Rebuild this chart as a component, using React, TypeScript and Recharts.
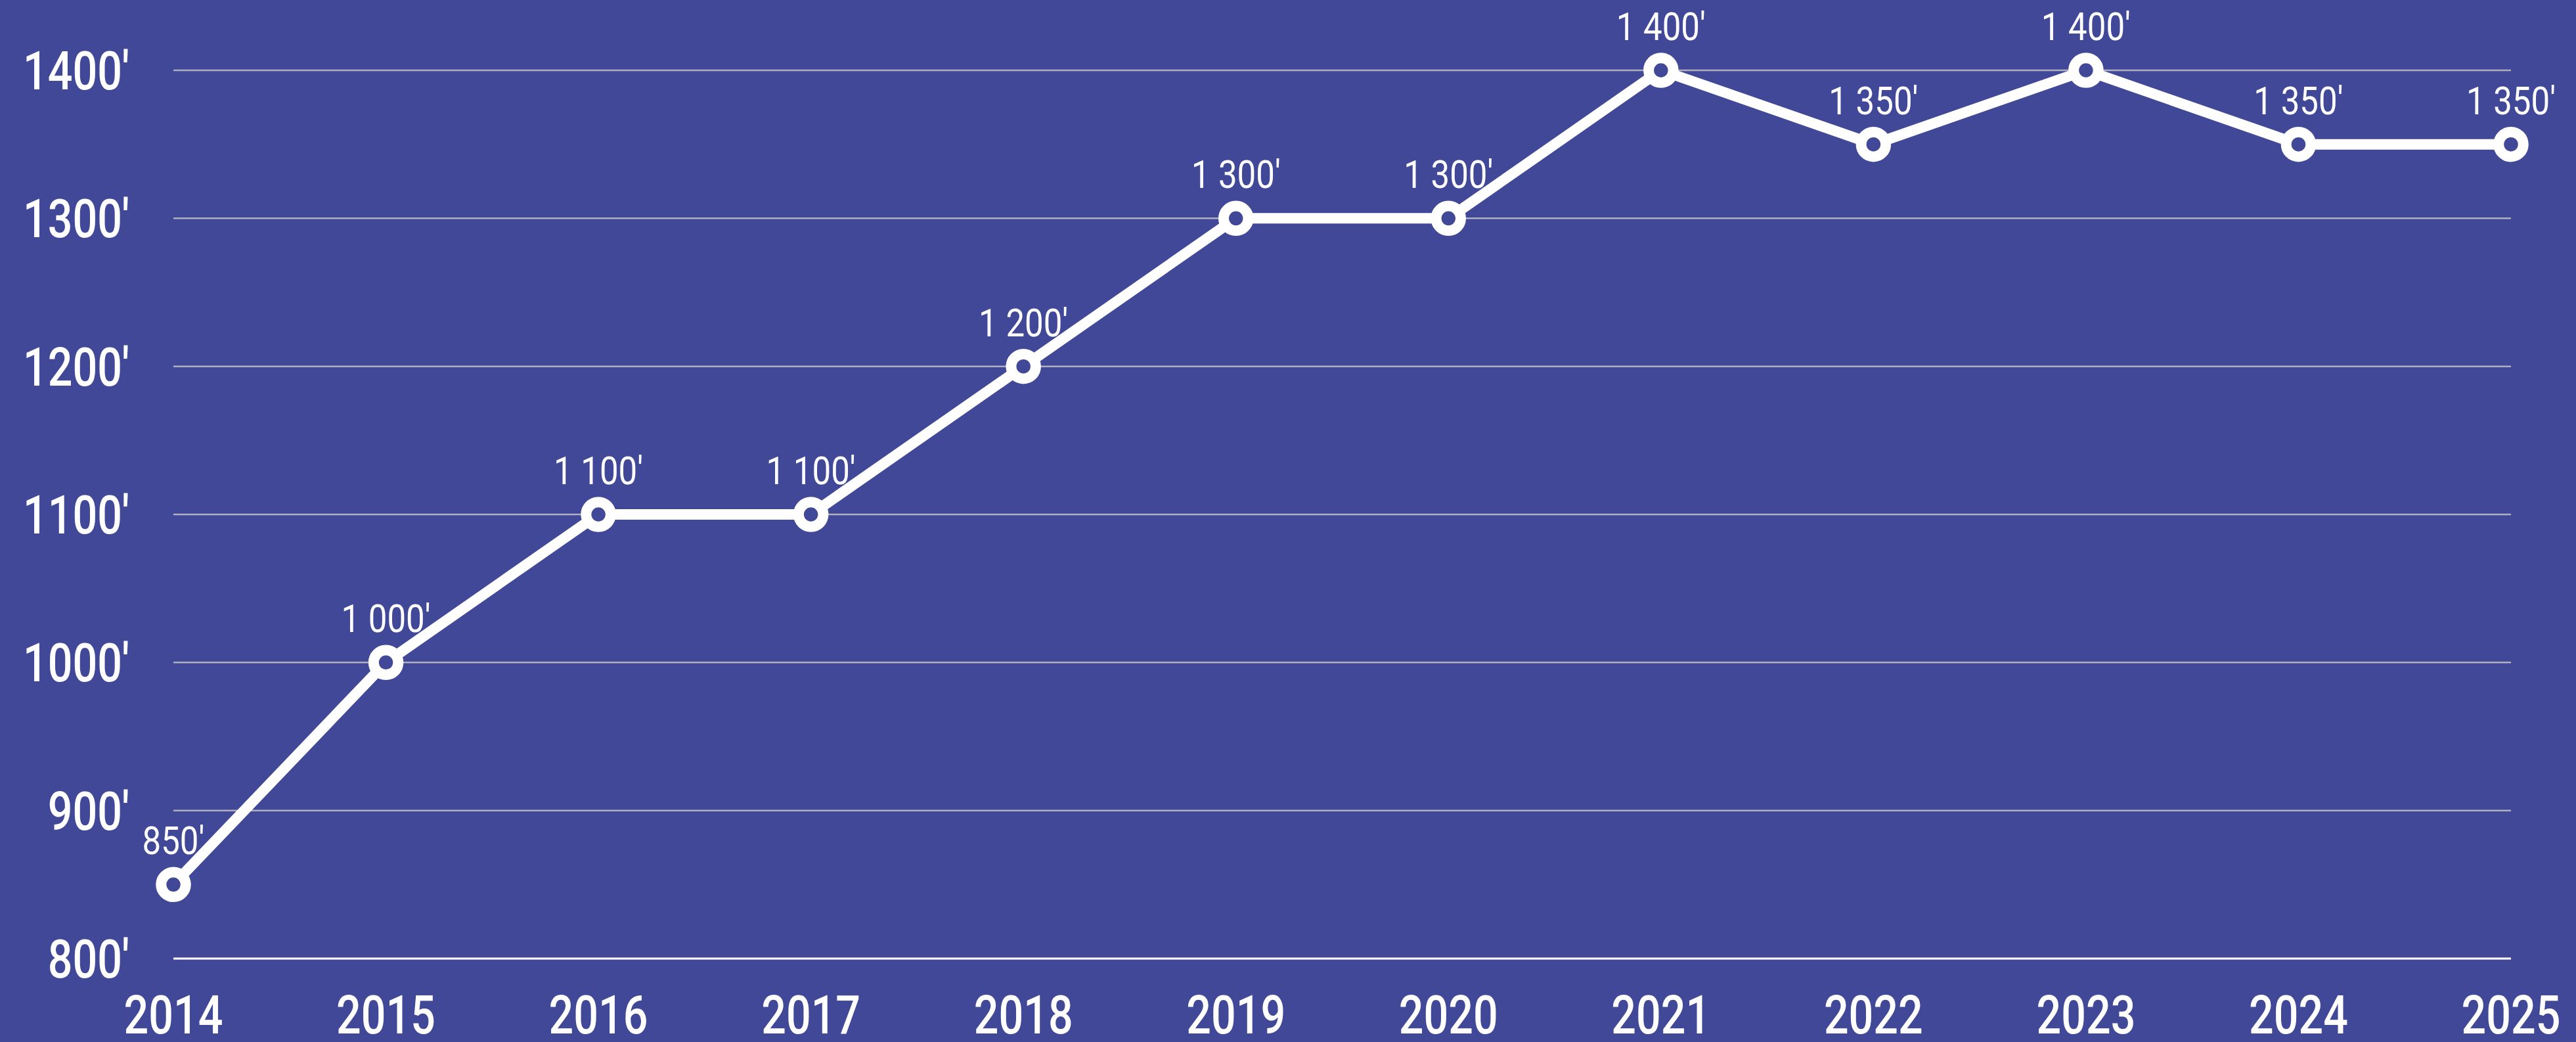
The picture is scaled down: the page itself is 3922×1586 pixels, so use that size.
import { LineChart, Line, XAxis, YAxis, CartesianGrid, LabelList } from "recharts"

const years = ["2014", "2015", "2016", "2017", "2018", "2019", "2020", "2021", "2022", "2023", "2024", "2025"]
const values = [850, 1000, 1100, 1100, 1200, 1300, 1300, 1400, 1350, 1400, 1350, 1350]
const yTicks = [800, 900, 1000, 1100, 1200, 1300, 1400]

const BG = "#404897"
const FONT = "Roboto, 'Noto Sans', sans-serif"

const data = years.map((year, i) => ({ year, value: values[i] }))

// "1 350'" style with a space as thousands separator
function formatValue(v: number) {
  if (v >= 1000) {
    const rest = String(v % 1000).padStart(3, "0")
    return `${Math.floor(v / 1000)} ${rest}'`
  }
  return `${v}'`
}

function XTick(props: any) {
  const { x, y, payload } = props
  return (
    <text
      transform={`translate(${x},${y + 106}) scale(0.82,1)`}
      textAnchor="middle"
      fill="#fff"
      fontSize={81}
      fontWeight={500}
      fontFamily={FONT}
    >
      {payload.value}
    </text>
  )
}

function YTick(props: any) {
  const { y, payload } = props
  return (
    <text
      transform={`translate(197,${y + 29}) scale(0.82,1)`}
      textAnchor="end"
      fill="#fff"
      fontSize={81}
      fontWeight={500}
      fontFamily={FONT}
    >
      {`${payload.value}'`}
    </text>
  )
}

function RingDot(props: any) {
  const { cx, cy } = props
  return <circle cx={cx} cy={cy} r={18.75} fill={BG} stroke="#fff" strokeWidth={16} />
}

function ValueLabel(props: any) {
  const { x, y, value } = props
  return (
    <text
      transform={`translate(${x},${y - 46}) scale(0.85,1)`}
      textAnchor="middle"
      fill="#fff"
      fontSize={60}
      fontFamily={FONT}
    >
      {formatValue(value)}
    </text>
  )
}

export default function App() {
  return (
    <div style={{ position: "absolute", left: 0, top: 0, width: 3922, height: 1586, background: BG }}>
      <style>{"body{margin:0}"}</style>
      <LineChart width={3922} height={1586} data={data} margin={{ top: 107, right: 99, bottom: 0, left: 0 }}>
        <CartesianGrid vertical={false} stroke="#aeb0c0" strokeWidth={2.5} />
        <XAxis
          dataKey="year"
          height={127}
          padding={{ left: 0, right: 0 }}
          tickLine={false}
          axisLine={{ stroke: "#fff", strokeWidth: 3 }}
          tick={<XTick />}
          interval={0}
        />
        <YAxis
          width={264}
          domain={[800, 1400]}
          ticks={yTicks}
          tickLine={false}
          axisLine={false}
          tick={<YTick />}
        />
        <Line
          type="linear"
          dataKey="value"
          stroke="#fff"
          strokeWidth={16}
          dot={<RingDot />}
          activeDot={false}
          isAnimationActive={false}
        >
          <LabelList dataKey="value" content={<ValueLabel />} />
        </Line>
      </LineChart>
    </div>
  )
}
